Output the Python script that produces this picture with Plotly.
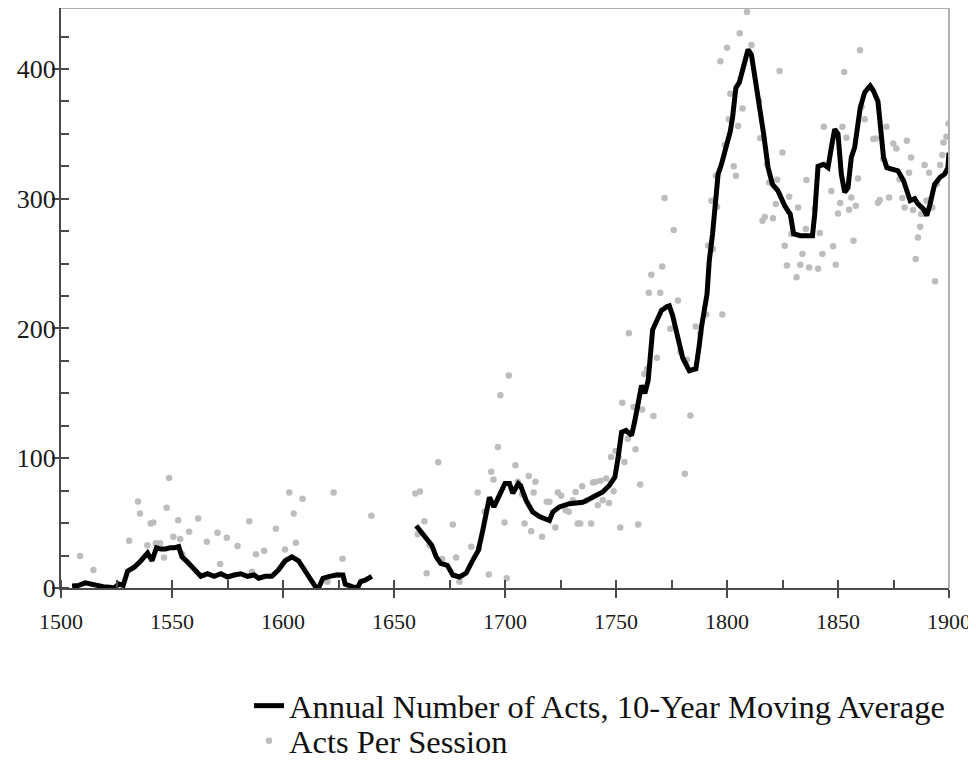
import plotly.graph_objects as go

# 10-year moving average of annual number of acts (gap 1641-1659)
ma_years = [1505, 1508, 1511, 1514, 1516, 1519, 1522, 1524, 1526, 1528, 1530, 1531, 1533, 1536, 1539,
            1541, 1543, 1545, 1547, 1549, 1551, 1553, 1554.5, 1557, 1560, 1563, 1566, 1569, 1572, 1575,
            1578, 1581, 1584, 1587, 1589, 1592, 1595, 1598, 1601, 1604, 1607, 1609.5, 1612.5, 1615, 1616,
            1618, 1621, 1624, 1627, 1628, 1631, 1633.5, 1635, 1637, 1640,
            1650,
            1660, 1663, 1665, 1667, 1669, 1671, 1674, 1676.5, 1679.5, 1682.5, 1685.5, 1688, 1690, 1692,
            1693, 1695, 1697, 1700, 1702, 1703.5, 1706, 1707, 1709.5, 1712.5, 1715.5, 1718.5, 1720,
            1721.5, 1724.5, 1729, 1735, 1739.5, 1744, 1747, 1749.5, 1751, 1752.5, 1754.5, 1757, 1758.5,
            1760.5, 1761.5, 1763, 1764.5, 1766.5, 1768.5, 1770.5, 1773, 1774, 1775.5, 1777, 1780, 1783,
            1786, 1787.5, 1788.5, 1791, 1792, 1793.5, 1794.5, 1796, 1797.5, 1799.5, 1801.5, 1802.5, 1804,
            1805.5, 1807.5, 1809.5, 1811, 1812.5, 1814, 1816.5, 1818.5, 1820.5, 1823, 1826, 1828.5, 1830,
            1833, 1838.5, 1839.5, 1841, 1843.5, 1845.5, 1847, 1848.5, 1850, 1851.5, 1853, 1854.5, 1856,
            1857.5, 1860, 1862, 1864.5, 1866, 1868, 1869.5, 1870.5, 1872, 1874, 1877, 1879.5, 1881,
            1882.5, 1884.5, 1886, 1888.5, 1890, 1891.5, 1893.5, 1896, 1898, 1899.5, 1900]
ma_values = [1.5, 2, 4, 3, 1.5, 1, 0.5, 0, 3, 2, 13, 14, 16, 21, 27,
             21, 31, 30, 30, 31, 31, 32, 24, 20, 14, 9, 11, 9, 11, 8.5,
             10, 11, 9, 10, 7.5, 9, 9, 14, 21, 24, 21, 14, 6, 0, 0,
             7.5, 9, 10, 10, 3, 1, 0, 5, 6, 9,
             None,
             48, 42, 38, 33, 24, 19, 17.5, 10, 8.5, 11.5, 21.5, 29, 44.5, 62.5,
             70, 62.5, 70, 80.5, 80.5, 73, 80.5, 79, 67.5, 58.5, 55, 53.5, 52,
             58.5, 62.5, 65, 66, 70, 74, 79, 85.5, 101, 120, 121.5, 117.5, 129,
             147, 156, 150, 160, 199, 206, 214, 217, 217.5, 210, 200, 177.5, 167.5,
             169, 187, 201, 226.5, 252, 273, 293, 319, 326.5, 339.5, 352, 362.5, 385.5,
             389.5, 403.5, 415, 411, 394.5, 380.5, 350, 324, 311, 306, 294.5, 288, 273,
             271.5, 271.5, 288, 325, 326.5, 324, 339.5, 353.5, 350, 319, 305, 308.5, 332,
             339.5, 370, 382, 387, 383, 375, 352, 332, 324, 323, 321.5, 314, 306,
             298.5, 300, 296, 292, 287, 296, 311, 316.5, 319, 324, 335.5]

# Acts per session (individual sessions)
session_years = [1508.6, 1514.6, 1530.7, 1534.7, 1535.6, 1538.9, 1540.4, 1541.6, 1542.7, 1544.6, 1546.4,
                 1547.6, 1548.7, 1550.6, 1552.8, 1553.7, 1554.7, 1557.7, 1561.8, 1565.7, 1570.5, 1571.7,
                 1574.7, 1579.5, 1584.8, 1586, 1587.8, 1591.5, 1596.8, 1600.9, 1602.8, 1604.8, 1605.8,
                 1608.8, 1620, 1622.8, 1624.6, 1626.8, 1639.8,
                 1659.6, 1661.7, 1663.7, 1660.7, 1666, 1664.7, 1671.7, 1669.9, 1676.5, 1678, 1679.5,
                 1684.8, 1688.2, 1692.7, 1690.8, 1687.7, 1693.8, 1694.8, 1696.8, 1697.9, 1701.7, 1699.8,
                 1700.8, 1704.7, 1705.8, 1707.7, 1708.8, 1710.7, 1712.9, 1713.7, 1711.8, 1716.7, 1718.8,
                 1720, 1722.7, 1723.8, 1725.3, 1727.3, 1728.7, 1730.5, 1731.8, 1732.8, 1733.9, 1734.8,
                 1736.6, 1738.8, 1739.6, 1740.8, 1741.8, 1743, 1744, 1745.6, 1746.8, 1748.9, 1747.8,
                 1749.8, 1751.2, 1751.9, 1752.8, 1753.8, 1755.3, 1755.8, 1757.9, 1758.8, 1760, 1760.9,
                 1761.8, 1762.8, 1764, 1766.9, 1768.4,
                 1765.9, 1770.8, 1764.8, 1769.9, 1771.9, 1776, 1777.9, 1774.5, 1779, 1781, 1782, 1783.5,
                 1785.9, 1788, 1790.7, 1791.5, 1793, 1793.7, 1795, 1795.5, 1797, 1797.9, 1799, 1800,
                 1800.8, 1801.5, 1803, 1804, 1805, 1805.7, 1807, 1809, 1811, 1814.5, 1815, 1816, 1817,
                 1818, 1819, 1820.7, 1822, 1822.6, 1823.7, 1825, 1826, 1827, 1828, 1829, 1831.3, 1832,
                 1833, 1834, 1835.5, 1835.8, 1837, 1839.5, 1841, 1841.8, 1843, 1843.6, 1847, 1847.8,
                 1849, 1850, 1851, 1852, 1852.8, 1853.8, 1855, 1856, 1857, 1858, 1859, 1859.9, 1860.6,
                 1862, 1865.9, 1867, 1868, 1868.8, 1870.4, 1871.8, 1873, 1874.9, 1876.3, 1877.7, 1879,
                 1880, 1881, 1882, 1882.9, 1883.8, 1885, 1886, 1887, 1887.5, 1889, 1889.8, 1891, 1891.4,
                 1892.5, 1893.7, 1894.5, 1896, 1897, 1897.5, 1898.8, 1899.8]
session_values = [24.6, 13.8, 36.4, 66.7, 57.4, 33, 49.7, 50.5, 34.4, 34.4, 23.6,
                  61.8, 84.8, 39.5, 52.3, 37.7, 26, 43.3, 53.6, 35.6, 42.5, 18.5,
                  38.7, 32.3, 51.5, 12.5, 26, 28.7, 45.6, 29.7, 73.6, 57.4, 34.9,
                  68.7, 4.8, 73.6, 10, 22.5, 55.6,
                  72.8, 74.4, 51.5, 41.5, 33, 11.3, 22.3, 97, 49, 23.6, 4.8,
                  31.8, 30.5, 10.5, 58.7, 73.6, 89.5, 83.6, 108.7, 148.5, 163.8, 50.5,
                  7.5, 94.6, 81.8, 72.3, 49.7, 86.4, 73.6, 81.8, 43.8, 39.5, 66.4,
                  66.4, 46.7, 73.6, 71, 60, 58.7, 67.7, 74, 49.7, 49.7, 78.5,
                  67.2, 49.7, 81.3, 81.8, 63.8, 82.6, 67.7, 84.4, 65.6, 74.6, 101,
                  105.6, 101, 46.7, 142.8, 97.2, 115, 196.4, 139.5, 107, 49, 79.8,
                  137.5, 165, 169, 132.5, 177.5,
                  241.5, 247.7, 227.5, 227.5, 300.5, 276, 221.5, 199.8, 182, 88, 176, 133,
                  201.5, 196, 210.8, 264, 298.5, 261.3, 317.7, 293.8, 406, 210.8, 341.5, 416.4,
                  361.3, 381, 325, 317.7, 356, 427.5, 369.5, 444, 418.5, 375.4, 346.7, 283, 286,
                  326.7, 312.5, 285, 296, 314.6, 398.5, 335.6, 263.8, 248.5, 301.5, 272.8, 239.5, 293.3,
                  249.2, 257.5, 276.7, 314.4, 247, 292, 246, 273.6, 257.5, 355.4, 306, 263.3,
                  249.2, 288.7, 296.7, 355.4, 397.7, 347, 291.5, 301, 267.7, 294.6, 315.6, 414.4, 370.8,
                  361.3, 346, 346.4, 297, 299, 330.5, 355.4, 301, 342.5, 338.7, 315, 300.5,
                  293.3, 344.6, 320, 331.8, 291.3, 253.6, 270.2, 278.5, 288.2, 326, 298.5, 320, 299,
                  293.3, 236.4, 311.3, 326, 333.8, 343.3, 347.7, 358]

x_ticks = [1500, 1550, 1600, 1650, 1700, 1750, 1800, 1850, 1900]
y_ticks = [0, 100, 200, 300, 400]

SERIF = "Liberation Serif"
AXIS_COL = "#4a4a4a"

fig = go.Figure()
fig.add_trace(go.Scatter(
    x=session_years, y=session_values, mode="markers",
    name="Acts Per Session", legend="legend2",
    marker=dict(color="#bdbdbd", size=6.5, line=dict(width=0)),
))
fig.add_trace(go.Scatter(
    x=ma_years, y=ma_values, mode="lines", connectgaps=False,
    name="Annual Number of Acts, 10-Year Moving Average", legend="legend",
    line=dict(color="#000000", width=5),
))

legend_font = dict(family=SERIF, size=32.5, color="#111111")

fig.update_layout(
    width=968, height=753,
    margin=dict(l=53, r=27, t=0, b=173),
    paper_bgcolor="white", plot_bgcolor="white",
    font=dict(family=SERIF, color="#1a1a1a"),
    showlegend=True,
    legend=dict(
        x=0.2117, xref="paper", y=0.0730, yref="container",
        xanchor="left", yanchor="middle",
        font=legend_font, bgcolor="rgba(0,0,0,0)", itemwidth=30,
    ),
    legend2=dict(
        x=0.2117, xref="paper", y=0.0265, yref="container",
        xanchor="left", yanchor="middle",
        font=legend_font, bgcolor="rgba(0,0,0,0)", itemwidth=30,
    ),
    xaxis=dict(
        range=[1500, 1900], tickvals=x_ticks, ticktext=[str(v) for v in x_ticks],
        ticks="outside", ticklen=8, tickwidth=1.5, tickcolor=AXIS_COL,
        showline=True, linecolor=AXIS_COL, linewidth=2,
        showgrid=False, zeroline=False, automargin=False,
        tickfont=dict(family=SERIF, size=22, color="#1a1a1a"),
        ticklabelstandoff=5,
        minor=dict(ticks="inside", dtick=25, tick0=1500, ticklen=8, tickwidth=1.5, tickcolor=AXIS_COL, showgrid=False),
    ),
    yaxis=dict(
        range=[0, 447], tickvals=y_ticks, ticktext=[str(v) for v in y_ticks],
        ticks="outside", ticklen=7, tickwidth=1.5, tickcolor=AXIS_COL,
        showline=True, linecolor=AXIS_COL, linewidth=2,
        showgrid=False, zeroline=False, automargin=False,
        tickfont=dict(family=SERIF, size=26, color="#1a1a1a"),
        ticklabelstandoff=-9,
        minor=dict(ticks="inside", dtick=25, tick0=0, ticklen=8, tickwidth=1.5, tickcolor=AXIS_COL, showgrid=False),
    ),
    shapes=[
        dict(type="line", xref="paper", yref="paper", x0=0, x1=1, y0=1, y1=1,
             line=dict(color="#b0b0b0", width=2)),
        dict(type="line", xref="paper", yref="paper", x0=1, x1=1, y0=0, y1=1,
             line=dict(color="#b0b0b0", width=2)),
    ],
)

fig.write_html("out.html")
